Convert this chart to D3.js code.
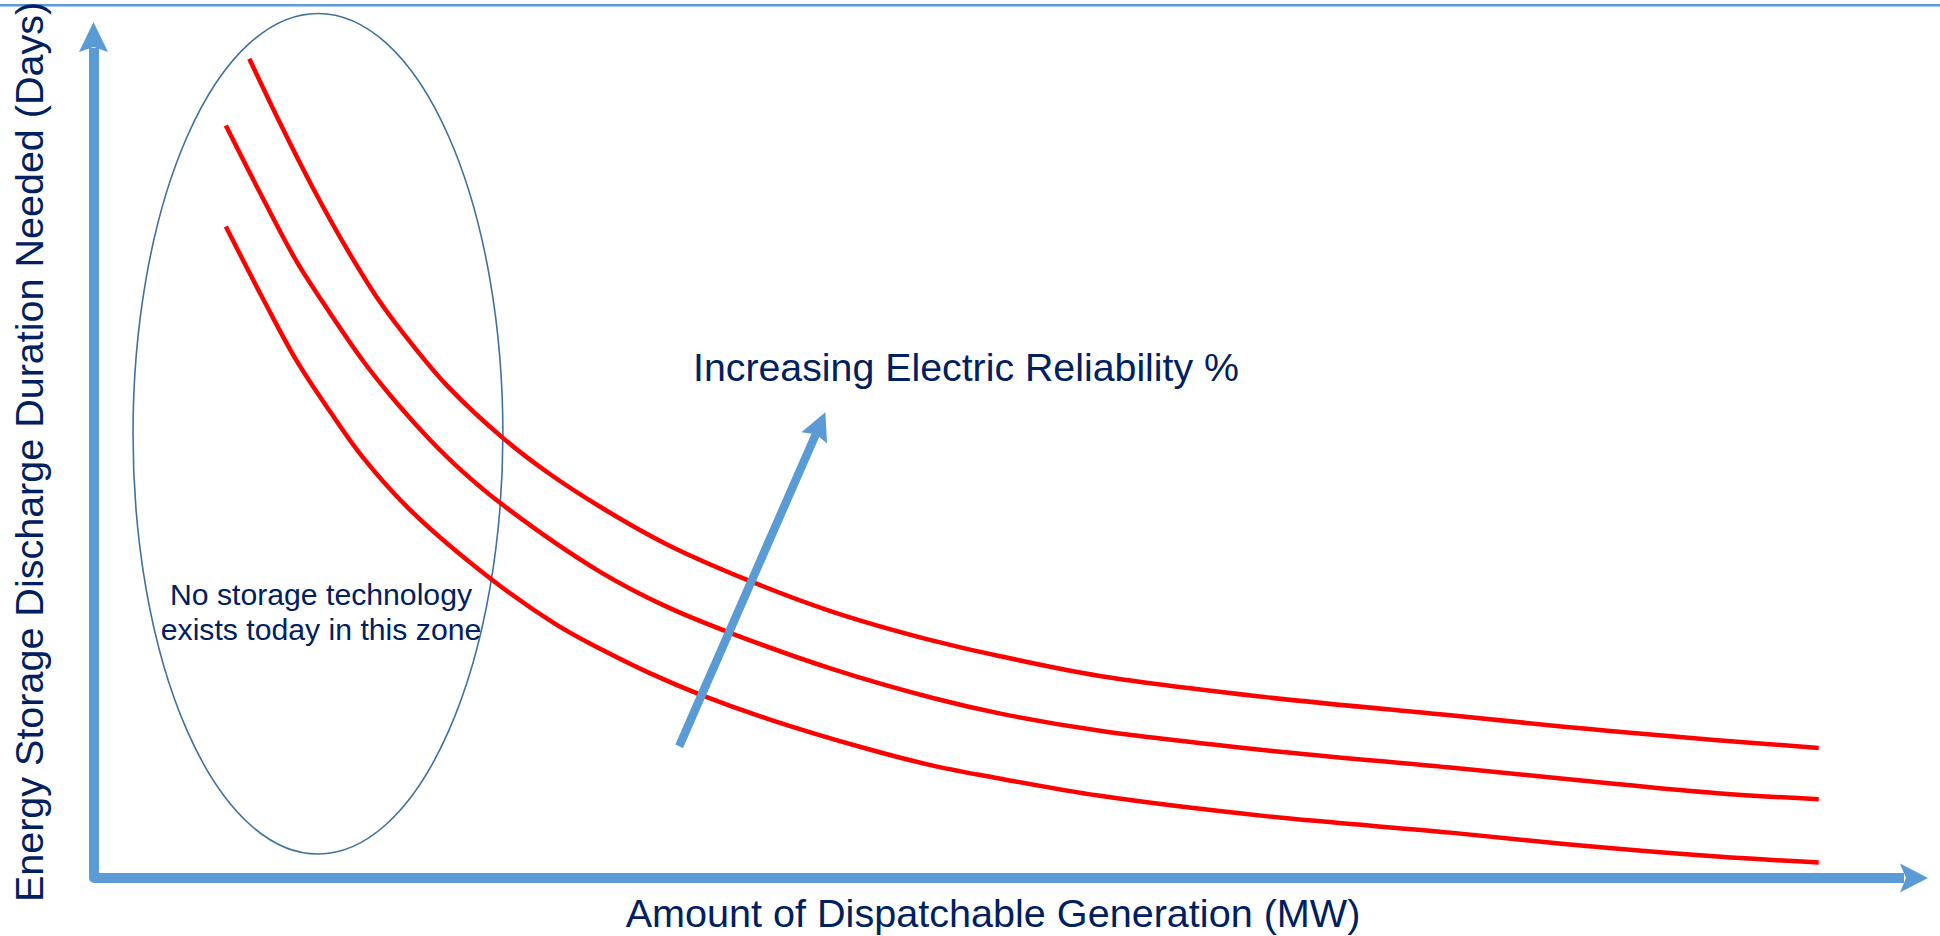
<!DOCTYPE html>
<html>
<head>
<meta charset="utf-8">
<script src="https://cdn.jsdelivr.net/npm/d3@7"></script>
<style>
  html, body { margin: 0; padding: 0; background: #ffffff; }
  svg { display: block; }
  text { font-family: "Liberation Sans", Arial, Helvetica, sans-serif; fill: #002060; }
</style>
</head>
<body>
<svg id="chart" width="1940" height="936"></svg>
<script>
// ---- Data (conceptual units 0..100 on both axes) ----
const seriesNames = ["Higher reliability", "Medium reliability", "Lower reliability"];

const xHigh = [8.6, 10.3, 12.1, 14.0, 15.8, 17.7, 19.6, 22.7, 25.1, 28.0, 31.7, 36.2, 40.9, 46.5, 50.2, 55.7, 65.0, 75.1, 82.8, 89.9, 95.5];
const yHigh = [95.7, 88.2, 80.7, 73.5, 67.4, 62.1, 57.4, 51.3, 47.4, 43.4, 39.0, 34.8, 31.1, 27.7, 25.9, 23.6, 21.1, 19.0, 17.4, 16.1, 15.2];

const xMid = [7.3, 9.4, 11.2, 13.1, 14.9, 16.8, 18.6, 20.4, 22.5, 28.0, 31.7, 35.4, 40.9, 46.5, 50.2, 55.7, 65.0, 75.1, 82.8, 89.9, 95.5];
const yMid = [87.9, 79.2, 72.1, 65.9, 60.4, 55.4, 51.2, 47.5, 43.8, 35.8, 31.7, 28.5, 24.4, 21.0, 19.2, 17.2, 14.9, 12.9, 11.3, 9.9, 9.2];

const xLow = [7.3, 9.4, 11.2, 13.1, 14.9, 17.5, 22.0, 25.6, 28.0, 30.8, 33.6, 37.3, 42.8, 46.5, 50.2, 55.7, 65.0, 75.1, 82.8, 89.9, 95.5];
const yLow = [76.1, 67.5, 60.5, 54.4, 49.1, 43.0, 34.9, 29.6, 26.8, 23.9, 21.4, 18.6, 15.1, 13.1, 11.6, 9.6, 7.2, 5.3, 3.7, 2.5, 1.8];

// "No storage technology" zone (ellipse) in data units
const zoneCenter = [12.4, 51.9];
const zoneRadii = [10.24, 49.1];

// Trend arrow (increasing reliability) in data units
const trendFrom = [32.4, 15.4];
const trendTo = [40.5, 54.4];

// Texts
const xAxisLabel = "Amount of Dispatchable Generation (MW)";
const yAxisLabel = "Energy Storage Discharge Duration Needed (Days)";
const trendLabel = "Increasing Electric Reliability %";
const zoneLabel = ["No storage technology", "exists today in this zone"];

// ---- Drawing ----
const svg = d3.select("#chart");
const W = 1940, H = 936;
const axisColor = "#5b9bd5";

svg.append("rect").attr("width", W).attr("height", H).attr("fill", "#ffffff");

const x = d3.scaleLinear().domain([0, 100]).range([94, 1900]);
const y = d3.scaleLinear().domain([0, 100]).range([878, 22]);

// top border line
svg.append("line")
  .attr("x1", 0).attr("x2", W).attr("y1", 5.3).attr("y2", 5.3)
  .attr("stroke", axisColor).attr("stroke-width", 2.6);

// axes (thick arrows)
const x0 = x(0), y0 = y(0);
const yTip = y(100), xTip = x(100) + 28;
svg.append("path")
  .attr("d", `M${x0},${yTip + 26} V${y0} H${xTip - 24}`)
  .attr("fill", "none").attr("stroke", axisColor)
  .attr("stroke-width", 10).attr("stroke-linejoin", "round");
svg.append("path")
  .attr("d", `M${x0 - 0.5},${yTip} L${x0 - 15},${yTip + 30} L${x0 - 0.5},${yTip + 25} L${x0 + 14},${yTip + 30} Z`)
  .attr("fill", axisColor);
svg.append("path")
  .attr("d", `M${xTip},${y0} L${xTip - 28},${y0 - 14.5} L${xTip - 22},${y0} L${xTip - 28},${y0 + 14.5} Z`)
  .attr("fill", axisColor);

// zone ellipse
svg.append("ellipse")
  .attr("cx", x(zoneCenter[0])).attr("cy", y(zoneCenter[1]))
  .attr("rx", x(zoneCenter[0] + zoneRadii[0]) - x(zoneCenter[0]))
  .attr("ry", y(zoneCenter[1]) - y(zoneCenter[1] + zoneRadii[1]))
  .attr("fill", "none").attr("stroke", "#41719c").attr("stroke-width", 1.6);

// curves
const series = [
  { name: seriesNames[0], xs: xHigh, ys: yHigh },
  { name: seriesNames[1], xs: xMid, ys: yMid },
  { name: seriesNames[2], xs: xLow, ys: yLow }
];
const line = d3.line()
  .x(d => x(d[0])).y(d => y(d[1]))
  .curve(d3.curveCatmullRom.alpha(0.5));
svg.selectAll("path.curve")
  .data(series)
  .enter().append("path")
  .attr("class", "curve")
  .attr("d", s => line(s.xs.map((v, i) => [v, s.ys[i]])))
  .attr("fill", "none").attr("stroke", "#ff0000")
  .attr("stroke-width", 4.5).attr("stroke-linecap", "butt");

// trend arrow
(function () {
  const ax = x(trendFrom[0]), ay = y(trendFrom[1]);
  const bx = x(trendTo[0]), by = y(trendTo[1]);
  const dx = bx - ax, dy = by - ay, len = Math.hypot(dx, dy);
  const ux = dx / len, uy = dy / len, px = -uy, py = ux;
  const headLen = 28, headHalf = 14, notch = 4;
  const baseX = bx - ux * headLen, baseY = by - uy * headLen;
  svg.append("line")
    .attr("x1", ax).attr("y1", ay)
    .attr("x2", bx - ux * (headLen - notch - 1)).attr("y2", by - uy * (headLen - notch - 1))
    .attr("stroke", axisColor).attr("stroke-width", 8.5);
  svg.append("path")
    .attr("d", `M${bx},${by} L${baseX + px * headHalf},${baseY + py * headHalf} L${baseX + ux * notch},${baseY + uy * notch} L${baseX - px * headHalf},${baseY - py * headHalf} Z`)
    .attr("fill", axisColor);
})();

// texts
svg.append("text")
  .attr("x", 693).attr("y", 381)
  .attr("font-size", 39.3)
  .text(trendLabel);

svg.append("text")
  .attr("x", 993).attr("y", 927)
  .attr("text-anchor", "middle")
  .attr("font-size", 39.6)
  .text(xAxisLabel);

svg.append("text")
  .attr("transform", "translate(43,452) rotate(-90)")
  .attr("text-anchor", "middle")
  .attr("font-size", 39.5)
  .text(yAxisLabel);

svg.selectAll("text.zone")
  .data(zoneLabel)
  .enter().append("text")
  .attr("class", "zone")
  .attr("x", 321)
  .attr("y", (d, i) => 605 + i * 35)
  .attr("text-anchor", "middle")
  .attr("font-size", 30.2)
  .text(d => d);
</script>
</body>
</html>
